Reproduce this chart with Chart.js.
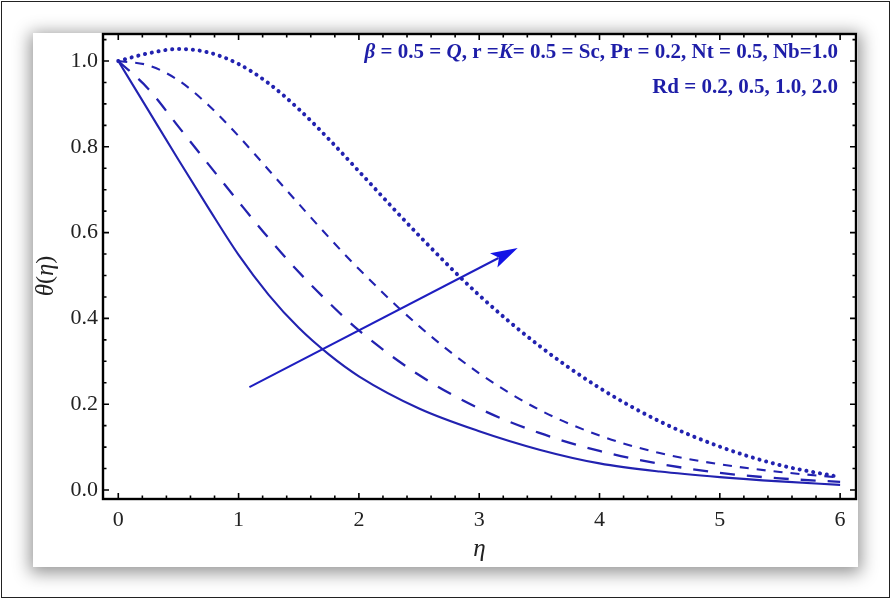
<!DOCTYPE html>
<html>
<head>
<meta charset="utf-8">
<script src="https://cdn.jsdelivr.net/npm/chart.js@4.4.1/dist/chart.umd.min.js"></script>
<style>
  html, body { margin: 0; padding: 0; background: #fff; }
  #page { position: relative; width: 891px; height: 600px; overflow: hidden; background: #fff; }
  #border { position: absolute; left: 1px; top: 1px; width: 887px; height: 595px; border: 1px solid #222; }
  #card { position: absolute; left: 33px; top: 33px; width: 825px; height: 534px; background: #fff;
          box-shadow: 0 3px 16px 3px rgba(0,0,0,0.42); }
  #chart { position: absolute; left: 0; top: 0; }
</style>
</head>
<body>
<div id="page">
  <div id="border"></div>
  <div id="card"></div>
  <canvas id="chart" width="891" height="600"></canvas>
</div>
<script>
// eta values and theta(eta) for each Rd
const etaValues = [0, 0.25, 0.5, 0.75, 1, 1.25, 1.5, 1.75, 2, 2.5, 3, 3.5, 4, 4.5, 5, 5.5, 6];
const thetaRd02 = [1.0, 0.885, 0.77, 0.657, 0.548, 0.455, 0.378, 0.316, 0.265, 0.19, 0.137, 0.094, 0.062, 0.043, 0.03, 0.02, 0.012];
const thetaRd05 = [1.0, 0.935, 0.847, 0.759, 0.672, 0.587, 0.508, 0.437, 0.372, 0.268, 0.19, 0.133, 0.091, 0.061, 0.04, 0.027, 0.019];
const thetaRd10 = [1.0, 0.99, 0.955, 0.897, 0.825, 0.746, 0.667, 0.589, 0.515, 0.382, 0.272, 0.187, 0.127, 0.086, 0.06, 0.042, 0.029];
const thetaRd20 = [1.0, 1.018, 1.028, 1.02, 0.993, 0.948, 0.888, 0.818, 0.743, 0.593, 0.454, 0.336, 0.238, 0.16, 0.101, 0.058, 0.03];

const xTickLabels = [0, 1, 2, 3, 4, 5, 6];
const yTickLabels = [0.0, 0.2, 0.4, 0.6, 0.8, 1.0];

// arrow (data coords): start and tip
const arrowFrom = [1.09, 0.24];
const arrowTo = [3.32, 0.564];

const lineColor = "#2222b0";
const textColor = "#1e1ea8";

const toPoints = (ys) => ys.map((y, i) => ({ x: etaValues[i], y: y }));

const serif = "'Liberation Serif', 'DejaVu Serif', serif";

function drawRuns(ctx, runs, x, y, align) {
    let total = 0;
    runs.forEach(r => { ctx.font = r.font; total += ctx.measureText(r.t).width; });
    let cx = align === "right" ? x - total : align === "center" ? x - total / 2 : x;
    runs.forEach(r => {
        ctx.font = r.font;
        ctx.fillText(r.t, cx, y);
        cx += ctx.measureText(r.t).width;
    });
}

const framePlugin = {
    id: "frame",
    afterDraw(chart) {
        const ctx = chart.ctx;
        const { left, top, right, bottom } = chart.chartArea;
        const xs = chart.scales.x, ys = chart.scales.y;
        ctx.save();
        ctx.strokeStyle = "#000";
        ctx.lineWidth = 1.6;
        // ticks on all four sides, pointing inward
        for (let i = 0; i <= 30; i++) {
            const px = xs.getPixelForValue(i * 0.2);
            const len = i % 5 === 0 ? 6 : 3.5;
            ctx.beginPath();
            ctx.moveTo(px, bottom); ctx.lineTo(px, bottom - len);
            ctx.moveTo(px, top); ctx.lineTo(px, top + len);
            ctx.stroke();
        }
        for (let i = 0; i <= 21; i++) {
            const py = ys.getPixelForValue(i * 0.05);
            const len = i % 4 === 0 ? 6 : 3.5;
            ctx.beginPath();
            ctx.moveTo(left, py); ctx.lineTo(left + len, py);
            ctx.moveTo(right, py); ctx.lineTo(right - len, py);
            ctx.stroke();
        }
        ctx.lineWidth = 2.4;
        ctx.strokeRect(left, top, right - left, bottom - top);

        // arrow
        const x1 = xs.getPixelForValue(arrowFrom[0]), y1 = ys.getPixelForValue(arrowFrom[1]);
        const x2 = xs.getPixelForValue(arrowTo[0]), y2 = ys.getPixelForValue(arrowTo[1]);
        const ang = Math.atan2(y2 - y1, x2 - x1);
        const c = Math.cos(ang), s = Math.sin(ang);
        const headLen = 27, headW = 8;
        ctx.strokeStyle = "#1e1ec0";
        ctx.lineWidth = 2;
        ctx.beginPath();
        ctx.moveTo(x1, y1);
        ctx.lineTo(x2 - headLen * c * 0.8, y2 - headLen * s * 0.8);
        ctx.stroke();
        ctx.fillStyle = "#1414e6";
        ctx.beginPath();
        ctx.moveTo(x2, y2);
        ctx.lineTo(x2 - headLen * c + headW * s, y2 - headLen * s - headW * c);
        ctx.lineTo(x2 - headLen * c * 0.78, y2 - headLen * s * 0.78);
        ctx.lineTo(x2 - headLen * c - headW * s, y2 - headLen * s + headW * c);
        ctx.closePath();
        ctx.fill();

        // annotation
        ctx.fillStyle = textColor;
        ctx.textBaseline = "alphabetic";
        const b = "bold 21px " + serif, bi = "italic bold 21px " + serif;
        drawRuns(ctx, [
            { t: "\u03B2", font: bi }, { t: " = 0.5 = ", font: b }, { t: "Q", font: bi },
            { t: ", r =", font: b }, { t: "K", font: bi },
            { t: "= 0.5 = Sc, Pr = 0.2, Nt = 0.5, Nb=1.0", font: b }
        ], right - 18, 58, "right");
        drawRuns(ctx, [{ t: "Rd = 0.2, 0.5, 1.0, 2.0", font: b }], right - 18, 93, "right");

        // axis titles
        ctx.fillStyle = "#222";
        ctx.textBaseline = "middle";
        drawRuns(ctx, [{ t: "\u03B7", font: "italic 25px " + serif }], (left + right) / 2, 549, "center");
        ctx.translate(46, 276);
        ctx.rotate(-Math.PI / 2);
        drawRuns(ctx, [
            { t: "\u03B8", font: "italic 25px " + serif }, { t: "(", font: "24px " + serif },
            { t: "\u03B7", font: "italic 25px " + serif }, { t: ")", font: "24px " + serif }
        ], 0, 0, "center");
        ctx.restore();
    }
};

new Chart(document.getElementById("chart"), {
    type: "line",
    data: {
        datasets: [
            { label: "Rd = 0.2", data: toPoints(thetaRd02), borderColor: lineColor, borderWidth: 2.1 },
            { label: "Rd = 0.5", data: toPoints(thetaRd05), borderColor: lineColor, borderWidth: 2.3, borderDash: [15, 12] },
            { label: "Rd = 1.0", data: toPoints(thetaRd10), borderColor: lineColor, borderWidth: 2.1, borderDash: [9, 8] },
            { label: "Rd = 2.0", data: toPoints(thetaRd20), borderColor: lineColor, borderWidth: 4, borderDash: [0.1, 6.8], borderCapStyle: "round" }
        ]
    },
    options: {
        responsive: false,
        animation: false,
        layout: { padding: { left: 33, top: 34, right: 35, bottom: 33 } },
        elements: { point: { radius: 0 }, line: { cubicInterpolationMode: "monotone", fill: false } },
        plugins: { legend: { display: false }, tooltip: { enabled: false } },
        scales: {
            x: {
                type: "linear",
                min: -0.127, max: 6.132,
                grid: { display: false, drawTicks: false },
                border: { display: false },
                afterBuildTicks: s => { s.ticks = xTickLabels.map(v => ({ value: v })); },
                afterFit: s => { s.height = 68; },
                ticks: { padding: 8, color: "#222", font: { family: serif, size: 22 }, callback: v => String(v) }
            },
            y: {
                type: "linear",
                min: -0.021, max: 1.063,
                grid: { display: false, drawTicks: false },
                border: { display: false },
                afterBuildTicks: s => { s.ticks = yTickLabels.map(v => ({ value: v })); },
                afterFit: s => { s.width = 70; },
                ticks: { padding: 5, color: "#222", font: { family: serif, size: 22 }, callback: v => Number(v).toFixed(1) }
            }
        }
    },
    plugins: [framePlugin]
});
</script>
</body>
</html>
